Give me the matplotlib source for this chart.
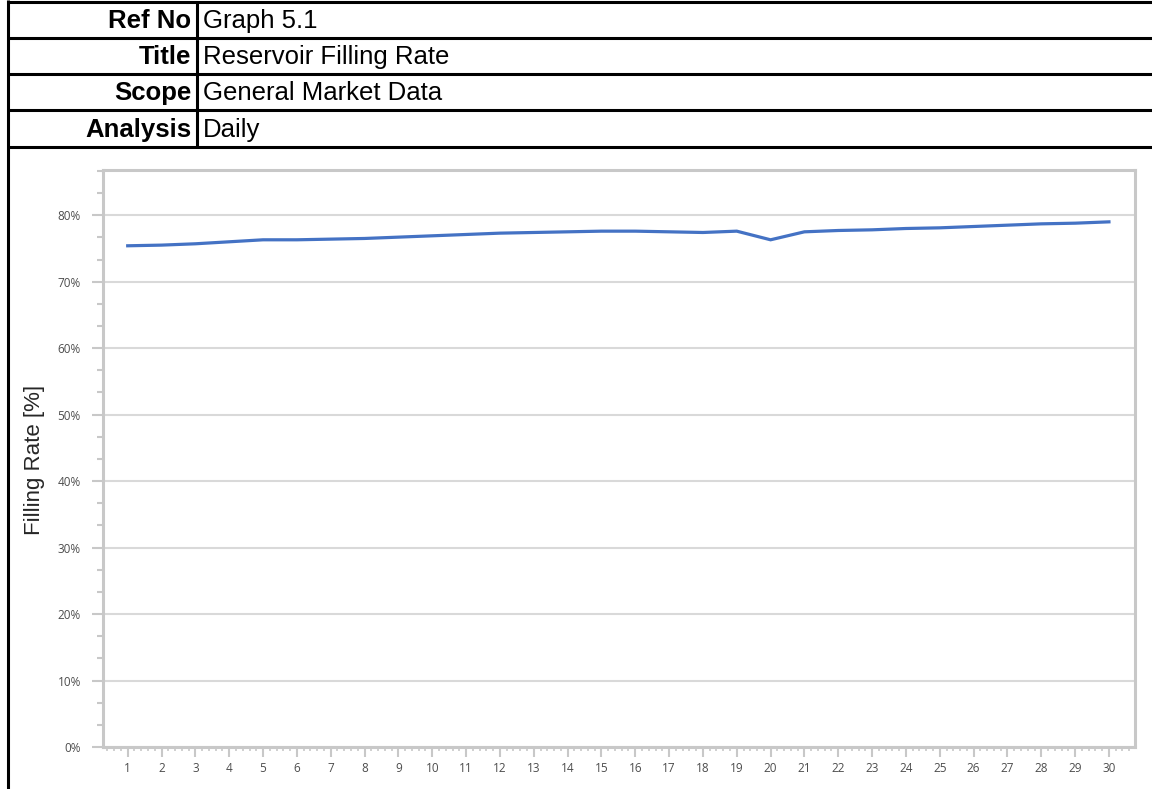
import matplotlib
matplotlib.use("Agg")
import matplotlib.pyplot as plt
from matplotlib.ticker import MultipleLocator, FuncFormatter
import numpy as np

# ---- data ----
days = list(range(1, 31))
filling_rate = [75.4, 75.5, 75.7, 76.0, 76.3, 76.3, 76.4, 76.5, 76.7, 76.9,
                77.1, 77.3, 77.4, 77.5, 77.6, 77.6, 77.5, 77.4, 77.6, 76.3,
                77.5, 77.7, 77.8, 78.0, 78.1, 78.3, 78.5, 78.7, 78.8, 79.0]
header_labels = ["Ref No", "Title", "Scope", "Analysis"]
header_values = ["Graph 5.1", "Reservoir Filling Rate", "General Market Data", "Daily"]
y_ticks = [0, 10, 20, 30, 40, 50, 60, 70, 80]
y_label = "Filling Rate [%]"

W, H = 1152, 789
fig = plt.figure(figsize=(W / 100, H / 100), dpi=100)

# ---- overlay for header table (pixel coordinates) ----
ov = fig.add_axes([0, 0, 1, 1])
ov.set_xlim(0, W)
ov.set_ylim(H, 0)
ov.axis("off")

row_lines = [2, 38, 74, 110, 147]
lw_tab = 2.2
for y in row_lines:
    ov.plot([7.5, W], [y, y], color="black", lw=lw_tab, solid_capstyle="butt")
ov.plot([7.5, 7.5], [0, H], color="black", lw=lw_tab, solid_capstyle="butt")
ov.plot([197, 197], [row_lines[0], row_lines[-1]], color="black", lw=lw_tab, solid_capstyle="butt")

for i, (lab, val) in enumerate(zip(header_labels, header_values)):
    yc = (row_lines[i] + row_lines[i + 1]) / 2 + 1
    ov.text(191, yc, lab, ha="right", va="center", fontsize=18.5,
            fontweight="bold", family="Liberation Sans", color="black")
    ov.text(203, yc, val, ha="left", va="center", fontsize=18.5,
            family="Liberation Sans", color="black")

ov.text(35, 460, y_label, rotation=90, ha="center", va="center",
        fontsize=16, family="Liberation Sans", color="#262626")

# ---- chart ----
left, right, top, bottom = 103, 1135, 170, 747
ax = fig.add_axes([left / W, 1 - bottom / H, (right - left) / W, (bottom - top) / H])
ax.plot(days, filling_rate, color="#4472C4", lw=2.3, solid_joinstyle="miter")
ax.set_ylim(0, 86.8)
ax.set_xlim(0.27, 30.77)

grid_c = "#d9d9d9"
spine_c = "#c8c8c8"
for y in y_ticks:
    ax.axhline(y, color=grid_c, lw=1.5, zorder=0)
for s in ax.spines.values():
    s.set_color(spine_c)
    s.set_linewidth(2.2)

ax.yaxis.set_major_locator(MultipleLocator(10))
ax.yaxis.set_minor_locator(MultipleLocator(10 / 3))
ax.yaxis.set_major_formatter(FuncFormatter(lambda v, p: f"{int(round(v))}%"))
ax.set_xticks(days)
ax.set_xticklabels([str(d) for d in days])
ax.xaxis.set_minor_locator(MultipleLocator(0.2))

ax.tick_params(axis="y", which="major", length=8, width=1.5, color=spine_c,
               labelsize=8.5, labelcolor="#4d4d4d", pad=8)
ax.tick_params(axis="y", which="minor", length=4, width=1.5, color=spine_c)
ax.tick_params(axis="x", which="major", length=7, width=1.5, color=spine_c,
               labelsize=8.5, labelcolor="#4d4d4d", pad=4)
ax.tick_params(axis="x", which="minor", length=3, width=1.2, color=spine_c)
for lab in ax.get_xticklabels() + ax.get_yticklabels():
    lab.set_family("Open Sans")

fig.savefig("out.png", dpi=100)
